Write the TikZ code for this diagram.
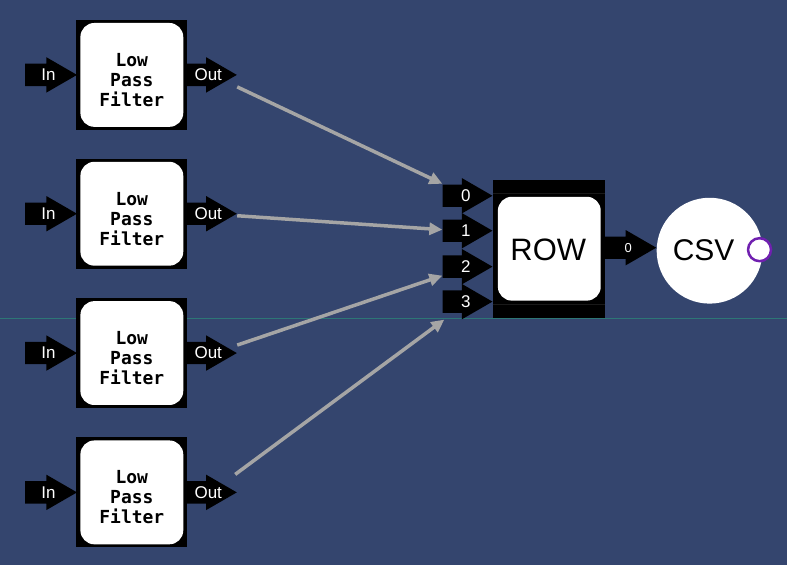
\documentclass[tikz,border=0pt]{standalone}
\usepackage{fontspec}
\setmainfont{Liberation Sans}
\newfontfamily\blockfont{DejaVu Sans Mono}
\usetikzlibrary{shapes.arrows,arrows.meta}

\definecolor{canvas}{RGB}{52,69,110}
\definecolor{wiregray}{RGB}{165,165,165}
\definecolor{gridline}{RGB}{45,118,118}
\definecolor{socket}{RGB}{112,32,176}

\begin{document}
\begin{tikzpicture}[x=1pt, y=-1pt,
    port/.style={single arrow, fill=black, single arrow head extend=6.5pt,
        single arrow tip angle=60, minimum height=52pt,
        inner xsep=2pt, inner ysep=4pt, text height=12pt, text depth=2pt},
    tag/.style={text=white, font=\fontsize{17}{17}\selectfont, inner sep=0pt},
    frame/.style={fill=black, minimum width=111pt, minimum height=110pt, inner sep=0pt},
    card/.style={fill=white, rounded corners=14pt, minimum width=103pt, minimum height=104pt, inner sep=0pt},
    lpf/.style={font=\blockfont\bfseries\fontsize{18}{20}\selectfont, align=center},
    big/.style={font=\fontsize{31}{31}\selectfont},
    link/.style={draw=wiregray, line width=3.5pt, -{Triangle[length=13pt,width=12pt]}}
]

% Background
\fill[canvas] (0,0) rectangle (787,566);
\draw[gridline, line width=1pt] (0,319) -- (787,319);

% Filters
\node[frame] (f1) at (131.5,75) {};
\node[card] (c1) at (131.5,75) {};
\node[lpf] (lpf1) at (131.5,80) {Low\\Pass\\Filter};
\node[port, anchor=tip] (in1) at (77,75) {};
\node[tag] at (48,75) {In};
\node[port, anchor=tip, minimum height=50pt] (out1) at (237,75) {};
\node[tag] at (208,75) {Out};

\node[frame] (f2) at (131.5,214) {};
\node[card] (c2) at (131.5,214) {};
\node[lpf] (lpf2) at (131.5,219) {Low\\Pass\\Filter};
\node[port, anchor=tip] (in2) at (77,214) {};
\node[tag] at (48,214) {In};
\node[port, anchor=tip, minimum height=50pt] (out2) at (237,214) {};
\node[tag] at (208,214) {Out};

\node[frame] (f3) at (131.5,353.5) {};
\node[card] (c3) at (131.5,353.5) {};
\node[lpf] (lpf3) at (131.5,358.5) {Low\\Pass\\Filter};
\node[port, anchor=tip] (in3) at (77,353.5) {};
\node[tag] at (48,353.5) {In};
\node[port, anchor=tip, minimum height=50pt] (out3) at (237,353.5) {};
\node[tag] at (208,353.5) {Out};

\node[frame] (f4) at (131.5,493) {};
\node[card] (c4) at (131.5,493) {};
\node[lpf] (lpf4) at (131.5,498) {Low\\Pass\\Filter};
\node[port, anchor=tip] (in4) at (77,493) {};
\node[tag] at (48,493) {In};
\node[port, anchor=tip, minimum height=50pt] (out4) at (237,493) {};
\node[tag] at (208,493) {Out};

% Row block
\node[frame, minimum width=112pt, minimum height=138pt] (rowframe) at (549,249) {};
\draw[black!80!gray, line width=0.8pt] ([yshift=-14pt]rowframe.north west) -- ([yshift=-14pt]rowframe.north east);
\draw[black!80!gray, line width=0.8pt] ([yshift=13pt]rowframe.south west) -- ([yshift=13pt]rowframe.south east);
\node[card] (rowcard) at (549.5,249) {};
\node[big] (row) at (548.5,250) {ROW};
\node[port, anchor=tip, minimum height=50pt] (p0) at (493,196) {};
\node[tag] at (466,196) {0};
\node[port, anchor=tip, minimum height=50pt] (p1) at (493,231) {};
\node[tag] at (466,231) {1};
\node[port, anchor=tip, minimum height=50pt] (p2) at (493,267) {};
\node[tag] at (466,267) {2};
\node[port, anchor=tip, minimum height=50pt] (p3) at (493,302) {};
\node[tag] at (466,302) {3};
\node[port, anchor=tip] (res) at (657,248) {};
\node[tag, font=\fontsize{13}{13}\selectfont] at (628.5,248) {0};

% CSV
\node[circle, fill=white, minimum size=106pt, inner sep=0pt] (csvdisk) at (710,251) {};
\node[big, font=\fontsize{30}{30}\selectfont] (csv) at (704,250) {CSV};
\node[circle, draw=socket, fill=white, line width=2.5pt, minimum size=23pt, inner sep=0pt] (sock) at (760,250) {};

% Edges
\draw[link] ([yshift=-12pt]out1.tip) -- ([yshift=12pt]p0.tail);
\draw[link] ([yshift=-2pt]out2.tip) -- ([yshift=1pt]p1.tail);
\draw[link] ([yshift=8pt]out3.tip) -- ([yshift=-9pt]p2.tail);
\draw[link] ([xshift=-2pt,yshift=18pt]out4.tip) -- ([xshift=2pt,yshift=-18pt]p3.tail);

\end{tikzpicture}
\end{document}
